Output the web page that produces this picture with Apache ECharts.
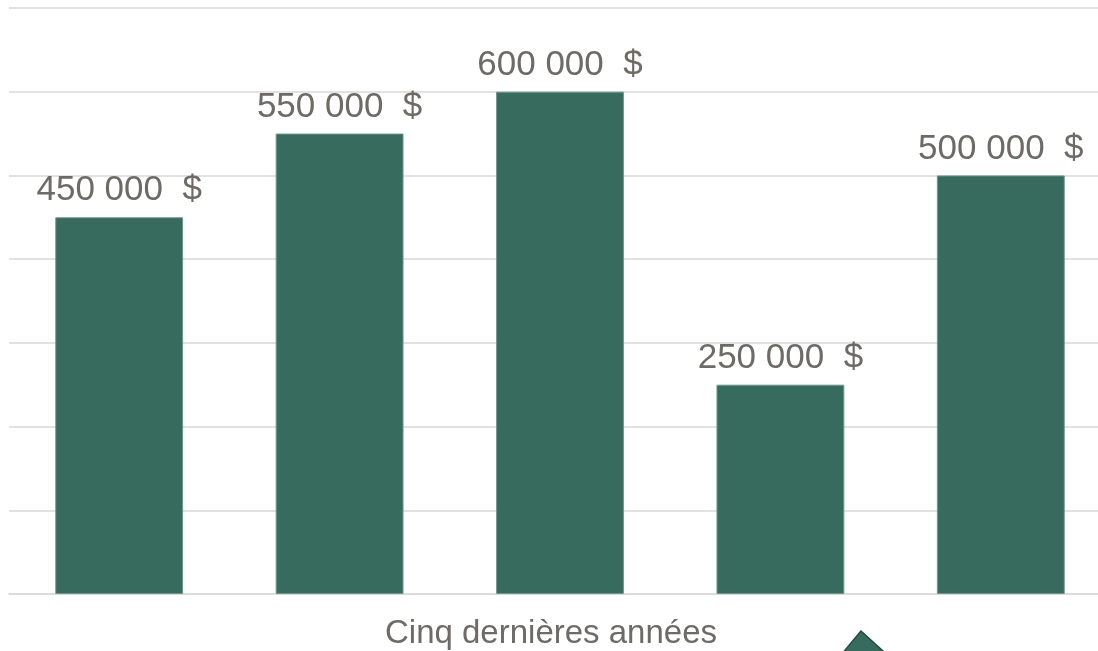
<!DOCTYPE html>
<html>
<head>
<meta charset="utf-8">
<script src="https://cdn.jsdelivr.net/npm/echarts@6/dist/echarts.min.js"></script>
<style>html,body{margin:0;padding:0;background:#fff;}#c{width:1098px;height:651px;}</style>
</head>
<body>
<div id="c"></div>
<script>
var categories = ['Année 1', 'Année 2', 'Année 3', 'Année 4', 'Année 5'];
var values = [450000, 550000, 600000, 250000, 500000];
var axisTitle = 'Cinq dernières années';

function fmt(v) {
  return String(v).replace(/\B(?=(\d{3})+(?!\d))/g, ' ') + '  $';
}

var chart = echarts.init(document.getElementById('c'));
chart.setOption({
  animation: false,
  backgroundColor: '#ffffff',
  grid: { left: 9, right: -13, top: 8, bottom: 57, containLabel: false, outerBoundsMode: 'none' },
  xAxis: {
    type: 'category',
    data: categories,
    axisLine: { show: true, lineStyle: { color: '#d9d9d9', width: 1.5 } },
    axisTick: { show: false },
    axisLabel: { show: false },
    name: axisTitle,
    nameLocation: 'middle',
    nameGap: 23,
    nameTextStyle: { color: '#6e6a66', fontSize: 33, fontFamily: 'Liberation Sans', padding: [0, 18, 0, 0] }
  },
  yAxis: {
    type: 'value',
    min: 0, max: 700000, interval: 100000,
    axisLabel: { show: false },
    axisLine: { show: false },
    axisTick: { show: false },
    splitLine: { lineStyle: { color: '#d9d9d9', width: 1.5 } }
  },
  series: [{
    type: 'bar',
    data: values,
    barWidth: '58%',
    itemStyle: { color: '#376b5e', borderColor: '#6f948a', borderWidth: 1 },
    label: {
      show: true,
      position: 'top',
      distance: 9,
      color: '#6e6a66',
      fontSize: 35,
      fontFamily: 'Liberation Sans',
      formatter: function (p) { return fmt(p.value); }
    }
  }],
  graphic: [{
    type: 'polygon',
    shape: { points: [[861, 631], [836, 661], [894, 661]] },
    style: { fill: '#376b5e', stroke: '#244c42', lineWidth: 1.5 }
  }]
});
</script>
</body>
</html>
